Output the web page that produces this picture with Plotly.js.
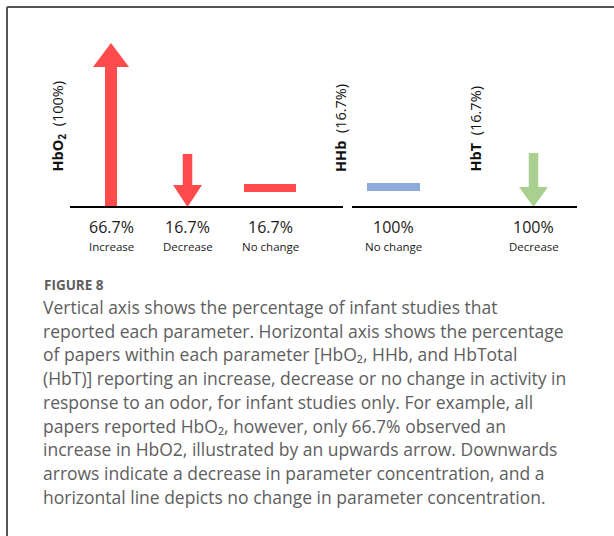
<!DOCTYPE html>
<html>
<head>
<meta charset="utf-8">
<script src="https://cdn.plot.ly/plotly-3.0.1.min.js"></script>
<style>
  html, body { margin: 0; padding: 0; background: #ffffff; }
  #chart { width: 614px; height: 536px; }
</style>
</head>
<body>
<div id="chart"></div>
<script>
// ---------------- DATA ----------------
const groups = ['HbO<sub>2</sub>', 'HHb', 'HbT'];
const groupShare = ['100%', '16.7%', '16.7%'];
const categories = ['Increase', 'Decrease', 'No change', 'No change', 'Decrease'];
const categoryGroup = [0, 0, 0, 1, 2];
const percentLabels = ['66.7%', '16.7%', '16.7%', '100%', '100%'];
const direction = ['up', 'down', 'flat', 'flat', 'down'];
const magnitude = [66.7, 21.6, 7.7, 8.1, 22.0];

const captionTitle = 'FIGURE 8';
const captionLines = [
  'Vertical axis shows the percentage of infant studies that',
  'reported each parameter. Horizontal axis shows the percentage',
  'of papers within each parameter [HbO\u2082, HHb, and HbTotal',
  '(HbT)] reporting an increase, decrease or no change in activity in',
  'response to an odor, for infant studies only. For example, all',
  'papers reported HbO\u2082, however, only 66.7% observed an',
  'increase in HbO2, illustrated by an upwards arrow. Downwards',
  'arrows indicate a decrease in parameter concentration, and a',
  'horizontal line depicts no change in parameter concentration.'
];

// ---------------- LAYOUT / STYLE ----------------
const W = 614, H = 536;
const baselinePx = 207;          // pixel row of value 0
const PX = 2.459;                // pixels per value unit
const slotX = [111, 187.5, 270, 393.5, 533.5];
const groupLabelX = [58, 340, 475];
const groupAxisSpan = [[70, 343], [70, 343], [352, 577]];
const markColor = ['#ff4b4b', '#ff4b4b', '#ff4b4b', '#8eaadb', '#a9d08e'];
const shaftW = [12, 9.5, 0, 0, 9.5];
const headW = [36, 29, 0, 0, 29];
const headHpx = [24, 22, 0, 0, 20];
const flatW = [0, 0, 52, 53, 0];
const flatTpx = 8;

const chartFont = 'Open Sans, Liberation Sans, sans-serif';
const captionColor = '#5e5e5e';

function px2y(p) { return (baselinePx - p) / PX; }

const traces = [];
for (let i = 0; i < categories.length; i++) {
  const cx = slotX[i];
  let xs = [], ys = [];
  if (direction[i] === 'up') {
    const tip = magnitude[i], hb = tip - headHpx[i] / PX;
    const s = shaftW[i] / 2, h = headW[i] / 2;
    xs = [cx - s, cx - s, cx - h, cx, cx + h, cx + s, cx + s, cx - s];
    ys = [0, hb, hb, tip, hb, hb, 0, 0];
  } else if (direction[i] === 'down') {
    const top = magnitude[i], hb = headHpx[i] / PX;
    const s = shaftW[i] / 2, h = headW[i] / 2;
    xs = [cx - s, cx - s, cx - h, cx, cx + h, cx + s, cx + s, cx - s];
    ys = [top, hb, hb, 0, hb, hb, top, top];
  } else {
    const c = magnitude[i], t = flatTpx / 2 / PX, h = flatW[i] / 2;
    xs = [cx - h, cx + h, cx + h, cx - h, cx - h];
    ys = [c - t, c - t, c + t, c + t, c - t];
  }
  traces.push({
    type: 'scatter', mode: 'lines', x: xs, y: ys,
    fill: 'toself', fillcolor: markColor[i],
    line: { width: 0, color: markColor[i] },
    hoverinfo: 'skip', showlegend: false
  });
}

const annotations = [];
// percent + category labels
for (let i = 0; i < categories.length; i++) {
  annotations.push({
    x: slotX[i], y: px2y(227), xref: 'x', yref: 'y',
    text: percentLabels[i], showarrow: false, xanchor: 'center', yanchor: 'middle',
    font: { family: chartFont, size: 16, color: '#1a1a1a' }
  });
  annotations.push({
    x: slotX[i], y: px2y(246.5), xref: 'x', yref: 'y',
    text: categories[i], showarrow: false, xanchor: 'center', yanchor: 'middle',
    font: { family: chartFont, size: 11.5, color: '#1a1a1a' }
  });
}
// group (vertical) labels
for (let g = 0; g < groups.length; g++) {
  annotations.push({
    x: groupLabelX[g], y: px2y(174), xref: 'x', yref: 'y',
    text: '<b>' + groups[g] + '</b>  (' + groupShare[g] + ')',
    textangle: -90, showarrow: false, xanchor: 'center', yanchor: 'bottom',
    font: { family: chartFont, size: 14.5, color: '#111111' }
  });
}
// caption
annotations.push({
  x: 42, y: px2y(285), xref: 'x', yref: 'y', text: '<b>' + captionTitle + '</b>',
  showarrow: false, xanchor: 'left', yanchor: 'middle',
  font: { family: chartFont, size: 13.5, color: captionColor }
});
for (let k = 0; k < captionLines.length; k++) {
  annotations.push({
    x: 41, y: px2y(307 + 23.7 * k), xref: 'x', yref: 'y', text: captionLines[k],
    showarrow: false, xanchor: 'left', yanchor: 'middle',
    font: { family: chartFont, size: 17.5, color: captionColor }
  });
}

const shapes = [];
// axis baselines (one per distinct span)
const seen = {};
groupAxisSpan.forEach(sp => {
  const key = sp.join('-');
  if (seen[key]) return; seen[key] = true;
  shapes.push({ type: 'line', xref: 'x', yref: 'y', x0: sp[0], x1: sp[1], y0: 0, y1: 0,
    line: { color: '#000000', width: 2.2 } });
});
// frame
shapes.push({ type: 'line', xref: 'x', yref: 'y', x0: 7, x1: W, y0: px2y(7), y1: px2y(7),
  line: { color: '#555555', width: 2 } });
shapes.push({ type: 'line', xref: 'x', yref: 'y', x0: 7, x1: 7, y0: px2y(7), y1: px2y(H),
  line: { color: '#555555', width: 2 } });

const layout = {
  width: W, height: H,
  margin: { l: 0, r: 0, t: 0, b: 0, pad: 0 },
  paper_bgcolor: '#ffffff', plot_bgcolor: '#ffffff',
  xaxis: { range: [0, W], visible: false, fixedrange: true },
  yaxis: { range: [px2y(H), px2y(0)], visible: false, fixedrange: true },
  showlegend: false,
  annotations: annotations,
  shapes: shapes
};

Plotly.newPlot('chart', traces, layout, { displayModeBar: false, staticPlot: true });
</script>
</body>
</html>
